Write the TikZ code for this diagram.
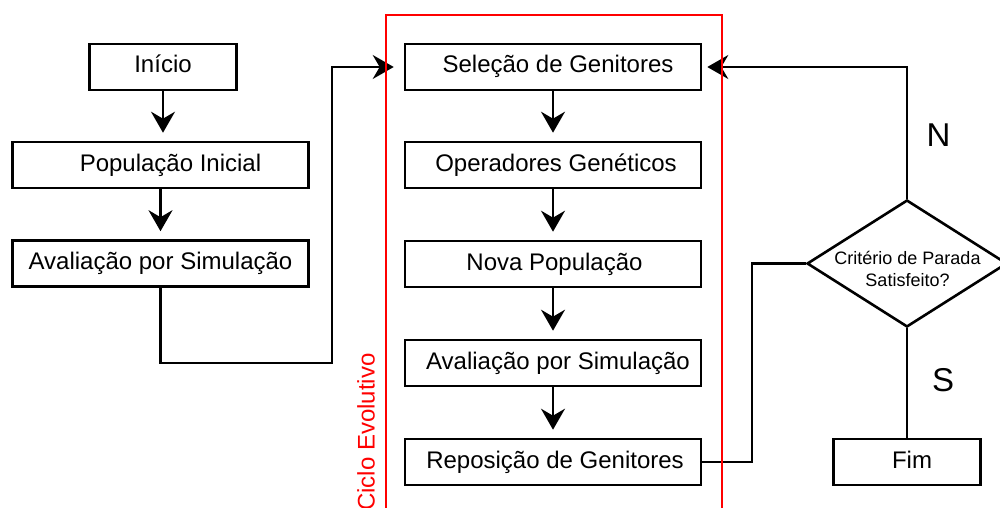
\documentclass[tikz,border=0pt]{standalone}
\usepackage{fontspec}
\setmainfont{Liberation Sans}
\usetikzlibrary{arrows.meta,shapes.geometric}
\begin{document}
\begin{tikzpicture}[x=1pt,y=-1pt,
  boxw/.style={draw, line width=2.6pt, minimum height=46pt, inner sep=0pt,
    text height=17pt, text depth=5pt, font=\fontsize{24}{28}\selectfont},
  wide/.style={boxw, minimum width=296pt},
  short/.style={boxw, minimum width=147pt},
  conn/.style={line width=2.4pt},
  arr/.style={conn, -{Stealth[length=21pt,width=24pt,inset=7pt]}},
  bigl/.style={font=\fontsize{33}{38}\selectfont}
]
\useasboundingbox (0,0) rectangle (1000,508);
\clip (0,0) rectangle (1000,508);

% left column
\node[short] (ini) at (163,67) {Início};
\node[wide] (pop) at (160.5,165) {\hspace*{20pt}População Inicial};
\node[wide] (avl) at (160.5,263.5) {Avaliação por Simulação};

% middle column
\node[wide] (sel) at (553,67) {\hspace*{10pt}Seleção de Genitores};
\node[wide] (ope) at (553,165) {\hspace*{6pt}Operadores Genéticos};
\node[wide] (nova) at (553,264) {\hspace*{3pt}Nova População};
\node[wide] (ava) at (553,363) {\hspace*{10pt}Avaliação por Simulação};
\node[wide] (rep) at (553,462) {\hspace*{4pt}Reposição de Genitores};

% right column
\node[diamond, draw, line width=2.6pt, minimum width=200pt, minimum height=127pt, inner sep=0pt] (dec) at (907,263.5) {};
\node[font=\fontsize{18}{22}\selectfont, align=center] (dectxt) at (907.5,269) {Critério de Parada\\Satisfeito?};
\node[short] (fim) at (907,462) {\hspace*{10pt}Fim};

\node[bigl] (lN) at (938.5,135) {N};
\node[bigl] (lS) at (943,380) {S};

% connectors
\draw[arr, shorten >=8pt] (ini.south) -- (ini.south |- pop.north);
\draw[arr, shorten >=8pt] (pop.south) -- (pop.south |- avl.north);
\coordinate (c1) at (332,363);
\draw[arr, shorten >=10pt] (avl.south) |- (c1) |- (sel.west);

\draw[arr, shorten >=8pt] (sel.south) -- (ope.north);
\draw[arr, shorten >=8pt] (ope.south) -- (nova.north);
\draw[arr, shorten >=8pt] (nova.south) -- (ava.north);
\draw[arr, shorten >=8pt] (ava.south) -- (rep.north);

\coordinate (c2) at (752,263.5);
\draw[conn] (rep.east) -| (c2) -- (dec.west);
\draw[arr, shorten >=5pt] (dec.north) |- (sel.east);
\draw[conn] (dec.south) -- (fim.north);

% evolutionary cycle frame
\draw[red, line width=2pt] (386,15.5) rectangle (721.5,540);
\node[red, rotate=90, font=\fontsize{24}{28}\selectfont] (ciclo) at (366,432) {Ciclo Evolutivo};
\end{tikzpicture}
\end{document}
